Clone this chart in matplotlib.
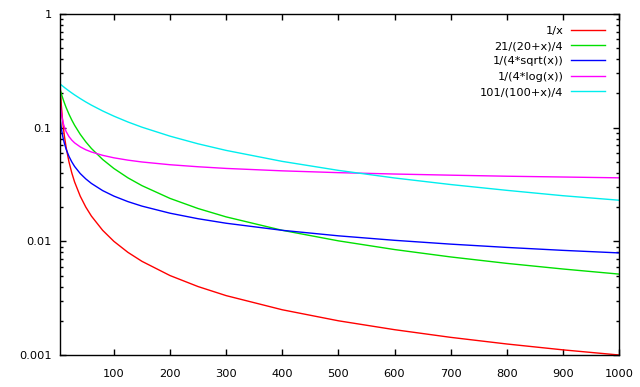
import matplotlib
matplotlib.use("Agg")
import matplotlib.pyplot as plt
from matplotlib.ticker import LogLocator, FixedLocator, NullFormatter

# sample x positions and curve values
x = [4, 5, 6, 8, 10, 12, 15, 20, 25, 30, 40, 50, 60, 80, 100, 125, 150,
     200, 250, 300, 400, 500, 600, 700, 800, 900, 1000]

inv_x = [0.25, 0.2, 0.1667, 0.125, 0.1, 0.0833, 0.0667, 0.05, 0.04, 0.0333,
         0.025, 0.02, 0.01667, 0.0125, 0.01, 0.008, 0.00667, 0.005, 0.004,
         0.00333, 0.0025, 0.002, 0.00167, 0.00143, 0.00125, 0.00111, 0.001]

green_vals = [0.2188, 0.21, 0.2019, 0.1875, 0.175, 0.1641, 0.15, 0.1313,
              0.1167, 0.105, 0.0875, 0.075, 0.0656, 0.0525, 0.04375, 0.0362,
              0.0309, 0.02386, 0.01944, 0.01641, 0.0125, 0.0101, 0.00847,
              0.00729, 0.0064, 0.00571, 0.00515]

sqrt_vals = [0.125, 0.1118, 0.1021, 0.0884, 0.0791, 0.0722, 0.0645, 0.0559,
             0.05, 0.0456, 0.0395, 0.0354, 0.0323, 0.02795, 0.025, 0.02236,
             0.02041, 0.01768, 0.01581, 0.01443, 0.0125, 0.01118, 0.01021,
             0.00945, 0.00884, 0.00833, 0.00791]

log_vals = [0.1803, 0.1553, 0.1395, 0.1202, 0.1086, 0.1006, 0.0923, 0.0835,
            0.0777, 0.0735, 0.0678, 0.0639, 0.0611, 0.0571, 0.0543, 0.0518,
            0.0499, 0.0472, 0.0453, 0.0438, 0.0417, 0.0402, 0.0391, 0.0382,
            0.0374, 0.0368, 0.0362]

cyan_vals = [0.2428, 0.2405, 0.2382, 0.2338, 0.2295, 0.2254, 0.2196, 0.2104,
             0.202, 0.1942, 0.1804, 0.1683, 0.1578, 0.1403, 0.1263, 0.1122,
             0.101, 0.0842, 0.0721, 0.0631, 0.0505, 0.0421, 0.0361, 0.0316,
             0.0281, 0.0252, 0.023]

labels = ["1/x", "21/(20+x)/4", "1/(4*sqrt(x))", "1/(4*log(x))", "101/(100+x)/4"]
colors = ["#ff0000", "#00e000", "#0000ff", "#ff00ff", "#00eeee"]
x_ticks = [100, 200, 300, 400, 500, 600, 700, 800, 900, 1000]

plt.rcParams['font.family'] = ['DejaVu Sans']
plt.rcParams['font.size'] = 8.2

fig = plt.figure(figsize=(6.4, 3.87), dpi=100)
ax = fig.add_axes([60 / 640, 32 / 387, 559 / 640, 341 / 387])

for ys, lab, col in zip([inv_x, green_vals, sqrt_vals, log_vals, cyan_vals], labels, colors):
    ax.plot(x, ys, color=col, lw=1, label=lab)

ax.set_yscale('log')
ax.set_xlim(4, 1000)
ax.set_ylim(0.001, 1)

ax.xaxis.set_major_locator(FixedLocator(x_ticks))
ax.set_xticklabels([str(t) for t in x_ticks])
ax.yaxis.set_minor_locator(LogLocator(base=10, subs=range(2, 10), numticks=10))
ax.yaxis.set_minor_formatter(NullFormatter())
ax.set_yticks([0.001, 0.01, 0.1, 1])
ax.set_yticklabels(["0.001", "0.01", "0.1", "1"])

ax.tick_params(which='both', direction='in', top=True, right=True, width=1)
ax.tick_params(which='major', length=4.5)
ax.tick_params(which='minor', length=2.5)
ax.tick_params(axis='x', which='major', pad=10)
ax.tick_params(axis='y', which='major', pad=6)
for s in ax.spines.values():
    s.set_linewidth(1)

ax.legend(loc='upper right', frameon=False, markerfirst=False, alignment='right',
          handlelength=3.0, labelspacing=0.47, handletextpad=0.7,
          borderaxespad=0.3, bbox_to_anchor=(0.99, 0.989))

fig.savefig("out.png", dpi=100)
